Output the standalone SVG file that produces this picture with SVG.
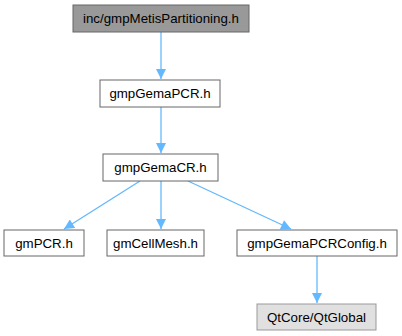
<svg xmlns="http://www.w3.org/2000/svg" width="402" height="336" viewBox="0 0 402 336">
<defs>
<style>
.n rect{fill:#ffffff;stroke:#666666;stroke-width:1}
.n text{font-family:"Liberation Sans",Arial,sans-serif;font-size:13.3px;fill:#000000;text-anchor:middle}
#n0 rect{fill:#999999}
#n6 rect{fill:#e0e0e0;stroke:#999999}
.e{stroke:#63b8ff;stroke-width:1.3;fill:none;marker-end:url(#ah)}
</style>
<marker id="ah" viewBox="0 0 10 10" refX="10" refY="5" markerWidth="11" markerHeight="10" markerUnits="userSpaceOnUse" orient="auto">
<path d="M0,0 L10,5 L0,10 z" fill="#63b8ff"/>
</marker>
</defs>
<rect width="402" height="336" fill="#ffffff"/>
<g id="edges">
<line class="e" x1="161" y1="32" x2="161" y2="79"/>
<line class="e" x1="161" y1="107" x2="161" y2="153"/>
<line class="e" x1="140" y1="181" x2="64" y2="229"/>
<line class="e" x1="161" y1="181" x2="161" y2="229"/>
<line class="e" x1="188" y1="181" x2="291" y2="229"/>
<line class="e" x1="317" y1="256" x2="317" y2="303"/>
</g>
<g id="n0" class="n"><rect x="73" y="5" width="176" height="27"/><text x="161" y="23">inc/gmpMetisPartitioning.h</text></g>
<g id="n1" class="n"><rect x="100" y="80" width="120" height="27"/><text x="160" y="98">gmpGemaPCR.h</text></g>
<g id="n2" class="n"><rect x="103" y="154" width="115" height="27"/><text x="160.5" y="172">gmpGemaCR.h</text></g>
<g id="n3" class="n"><rect x="4" y="230" width="80" height="26"/><text x="44" y="247.5">gmPCR.h</text></g>
<g id="n4" class="n"><rect x="107" y="230" width="97" height="26"/><text x="155.5" y="247.5">gmCellMesh.h</text></g>
<g id="n5" class="n"><rect x="237" y="230" width="160" height="26"/><text x="317" y="247.5">gmpGemaPCRConfig.h</text></g>
<g id="n6" class="n"><rect x="257" y="304" width="119" height="26"/><text x="316.5" y="321.5">QtCore/QtGlobal</text></g>
</svg>
